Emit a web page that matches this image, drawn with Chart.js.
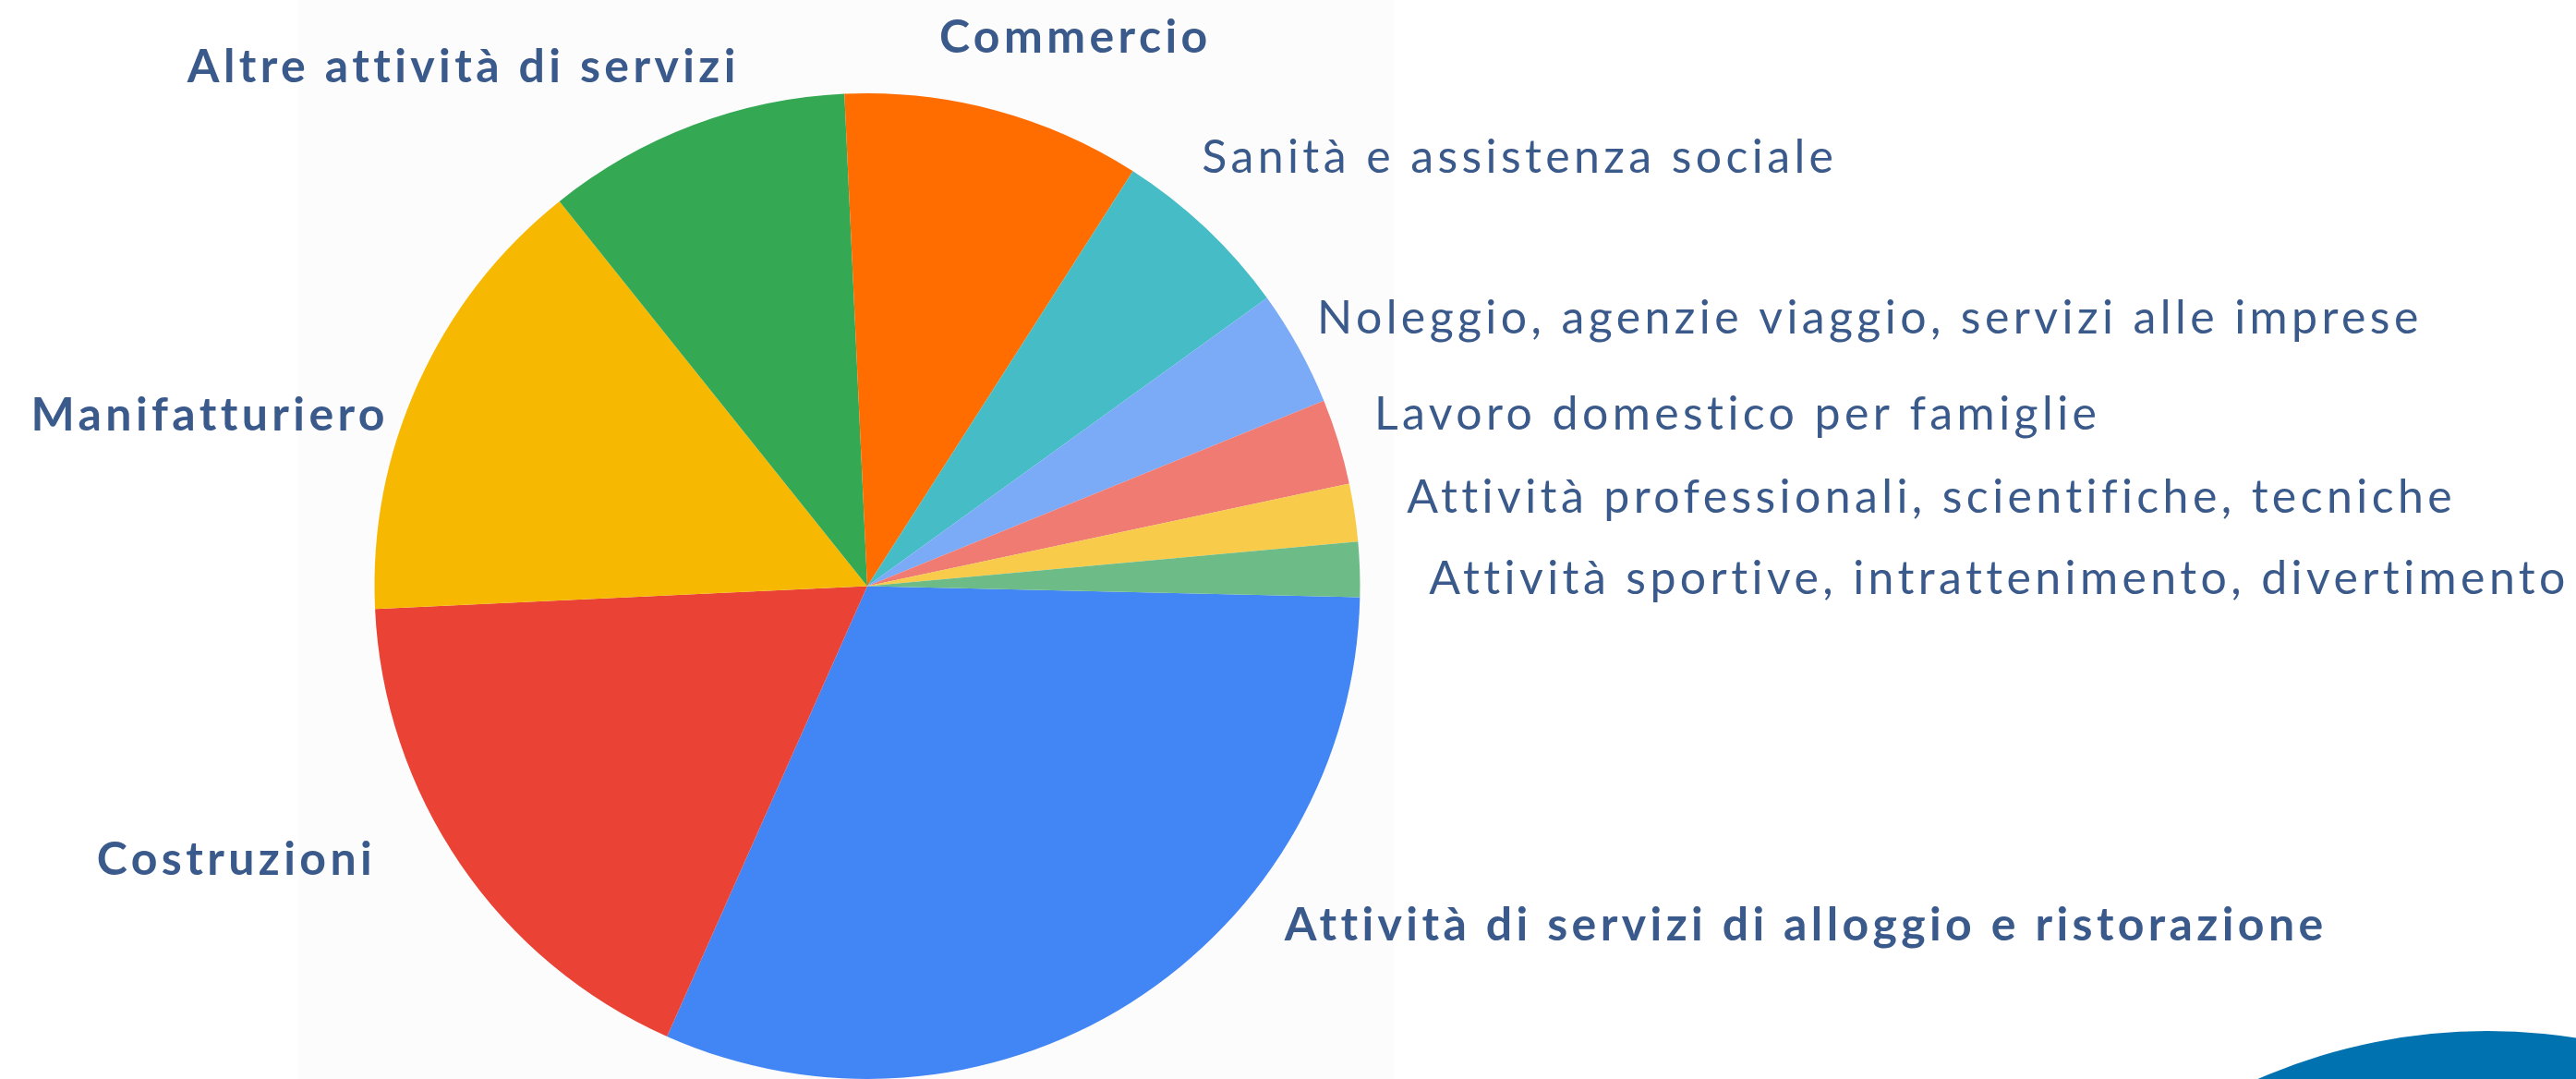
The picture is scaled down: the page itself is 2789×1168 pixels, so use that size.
<!DOCTYPE html>
<html lang="it">
<head>
<meta charset="utf-8">
<title>Settori</title>
<script src="https://cdn.jsdelivr.net/npm/chart.js@4.4.1/dist/chart.umd.min.js"></script>
<style>
    html, body { margin: 0; padding: 0; background: #ffffff; overflow: hidden; }
    #wrap { position: relative; width: 2789px; height: 1168px; }
    /* faint panel behind the pie */
    #panel { position: absolute; left: 323px; top: 0; width: 1186px; height: 1168px; background: #fcfcfc; }
    /* blue shape in the bottom-right corner */
    #blob { position: absolute; left: 2073px; top: 1116px; width: 1240px; height: 1240px; border-radius: 50%; background: #0072b0; }
    canvas { position: absolute; left: 0; top: 0; }
</style>
</head>
<body>
<div id="wrap">
    <div id="panel"></div>
    <div id="blob"></div>
    <canvas id="pie" width="2789" height="1168"></canvas>
</div>
<script>
// --- Data (share of employment by sector, %) ---
const sectors = [
    'Attività di servizi di alloggio e ristorazione',
    'Costruzioni',
    'Manifatturiero',
    'Altre attività di servizi',
    'Commercio',
    'Sanità e assistenza sociale',
    'Noleggio, agenzie viaggio, servizi alle imprese',
    'Lavoro domestico per famiglie',
    'Attività professionali, scientifiche, tecniche',
    'Attività sportive, intrattenimento, divertimento'
];
const shares = [31.3, 17.6, 15.0, 10.0, 9.8, 6.0, 3.8, 2.8, 1.9, 1.8];

// --- Styles ---
const sliceColors = ['#4285F4', '#EA4335', '#F6B800', '#34A853', '#FF6D01', '#46BDC6', '#7BAAF7', '#F07B72', '#F8CB4A', '#6DBB87'];
const boldLabel = [true, true, true, true, true, false, false, false, false, false];
const labelColor = '#3b5a8c';

// label spots, in pie radii from the centre (x, baseline y, alignment)
const labelSpots = [
    [0.847, 0.719, 'left'],
    [-0.997, 0.586, 'right'],
    [-0.971, -0.316, 'right'],
    [-0.259, -1.023, 'right'],
    [0.146, -1.082, 'left'],
    [0.679, -0.839, 'left'],
    [0.913, -0.513, 'left'],
    [1.029, -0.318, 'left'],
    [1.095, -0.149, 'left'],
    [1.140, 0.016, 'left']
];

// --- Outside labels plugin ---
const outsideLabels = {
    id: 'outsideLabels',
    afterDatasetsDraw(chart) {
        const ctx = chart.ctx;
        const arcs = chart.getDatasetMeta(0).data;
        ctx.save();
        ctx.fillStyle = labelColor;
        ctx.textBaseline = 'alphabetic';
        ctx.letterSpacing = '4.4px';
        arcs.forEach((arc, i) => {
            const { x, y, outerRadius } = arc.getProps(['x', 'y', 'outerRadius'], true);
            const spot = labelSpots[i];
            ctx.font = (boldLabel[i] ? '700 ' : '400 ') + '50px Lato';
            ctx.textAlign = spot[2];
            ctx.fillText(chart.data.labels[i], x + spot[0] * outerRadius, y + spot[1] * outerRadius);
        });
        ctx.restore();
    }
};

new Chart(document.getElementById('pie'), {
    type: 'pie',
    data: {
        labels: sectors,
        datasets: [{
            data: shares,
            backgroundColor: sliceColors,
            borderWidth: 0
        }]
    },
    options: {
        responsive: false,
        animation: false,
        rotation: 91.3,
        layout: { padding: { left: 405, right: 1316, top: 101, bottom: 0 } },
        plugins: {
            legend: { display: false },
            tooltip: { enabled: false }
        }
    },
    plugins: [outsideLabels]
});
</script>
</body>
</html>
